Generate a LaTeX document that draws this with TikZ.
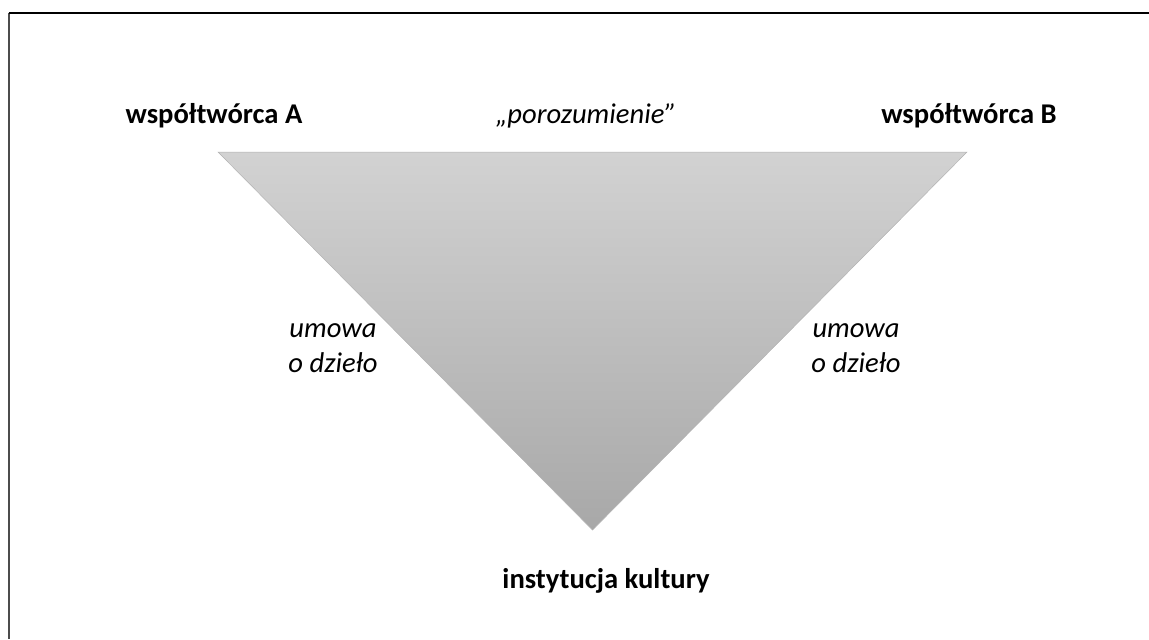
\documentclass[tikz,border=0pt]{standalone}
\usepackage{fontspec}
\setmainfont{Carlito}
\usetikzlibrary{positioning}
\definecolor{wedgetop}{HTML}{D2D2D2}
\definecolor{wedgebot}{HTML}{A8A8A8}

\begin{document}
\begin{tikzpicture}[x=0.5pt, y=-0.5pt,
      party/.style={font=\fontsize{14.3}{17}\selectfont\bfseries, anchor=base, inner sep=0pt},
      deal/.style={font=\fontsize{14.3}{17.5}\selectfont\itshape, align=center, inner sep=0pt},
      frame/.style={line width=1pt}
    ]
      \useasboundingbox (0,0) rectangle (1149,639);
      % ramka (widoczna tylko z lewej i u gory)
      \draw[frame, black!70] (8.5,12.5) -- (8.5,639);
      \draw[frame, black] (8.5,12.5) -- (1149,12.5);
      % trojkat
      \coordinate (ta) at (218,152);
      \coordinate (tb) at (967,152);
      \coordinate (tc) at (592.5,530);
      \shade[top color=wedgetop, bottom color=wedgebot] (ta) -- (tb) -- (tc) -- cycle;
      \draw[black!30, line width=0.25pt] (ta) -- (tb) -- (tc) -- cycle;
      % opisy
      \node[party] (wa) at (214,123) {współtwórca A};
      \node[party] (wb) at (969,123) {współtwórca B};
      \node[party, font=\fontsize{14.3}{17}\selectfont\itshape] (por) at (586,123) {„porozumienie”};
      \node[party] (ik) at (606,588) {instytucja kultury};
      \node[deal] (uA) at (333,348) {umowa\\o dzieło};
      \node[deal] (uB) at (856,348) {umowa\\o dzieło};
    \end{tikzpicture}
\end{document}
